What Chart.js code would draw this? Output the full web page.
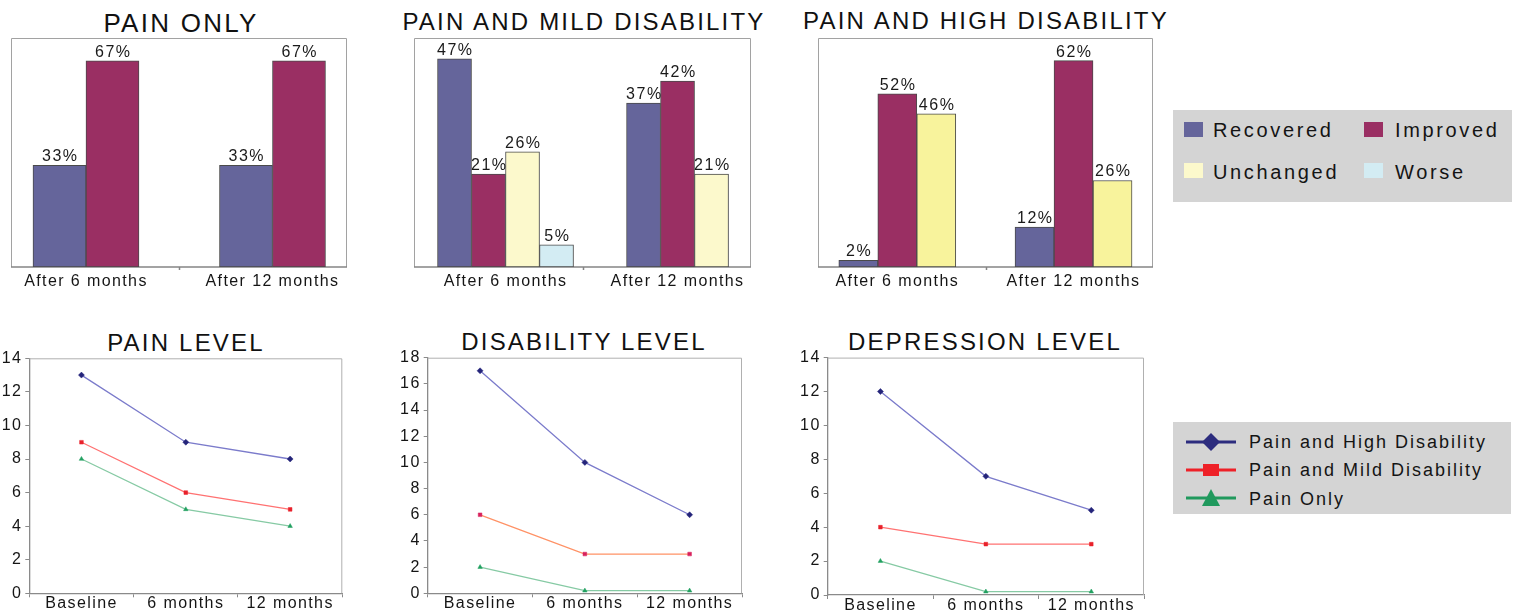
<!DOCTYPE html>
<html>
<head>
<meta charset="utf-8">
<title>Outcomes by patient group</title>
<script src="https://cdn.jsdelivr.net/npm/chart.js@4.4.1/dist/chart.umd.min.js"></script>
<style>
  html, body { margin: 0; padding: 0; background: #fff; }
  body {
    width: 1516px; height: 615px; position: relative; overflow: hidden;
    font-family: "Liberation Sans", Arial, sans-serif; color: #151515;
  }
  canvas { position: absolute; }
  .title {
    position: absolute; white-space: nowrap; transform: translateX(-50%);
    font-size: 24px; line-height: 24px; letter-spacing: 2.2px; color: #111;
  }
  .title.big { font-size: 26px; line-height: 26px; letter-spacing: 2.25px; }
  .legend { position: absolute; background: #d4d4d4; }
  .legend .swatch { position: absolute; width: 19px; height: 15px; }
  .legend .text20 { position: absolute; font-size: 20px; line-height: 20px; letter-spacing: 2.65px; color: #141414; }
  .legend .text18 { position: absolute; font-size: 18px; line-height: 18px; letter-spacing: 2px; color: #141414; }
  .legend svg { position: absolute; }
</style>
</head>
<body>

<div class="title big" style="left:181px; top:9.5px;">PAIN ONLY</div>
<div class="title" style="left:584px; top:9.7px;">PAIN AND MILD DISABILITY</div>
<div class="title" style="left:986px; top:9.2px;">PAIN AND HIGH DISABILITY</div>
<div class="title" style="left:186px; top:331.2px;">PAIN LEVEL</div>
<div class="title" style="left:584px; top:329.7px;">DISABILITY LEVEL</div>
<div class="title" style="left:985px; top:330.2px;">DEPRESSION LEVEL</div>

<canvas id="painOnlyChart" width="360" height="270" style="left:0px; top:30px;"></canvas>
<canvas id="mildChart" width="380" height="270" style="left:390px; top:30px;"></canvas>
<canvas id="highChart" width="380" height="270" style="left:790px; top:30px;"></canvas>

<canvas id="painLevelChart" width="360" height="270" style="left:0px; top:345px;"></canvas>
<canvas id="disabilityLevelChart" width="360" height="270" style="left:398px; top:345px;"></canvas>
<canvas id="depressionLevelChart" width="360" height="270" style="left:798px; top:345px;"></canvas>

<div class="legend" id="outcomeLegend" style="left:1173px; top:110px; width:339px; height:92px;"></div>
<div class="legend" id="groupLegend" style="left:1173px; top:422px; width:338px; height:92px;"></div>

<script>
// ---- Outcome percentages (top row) ----
const outcomeLabels = ['After 6 months', 'After 12 months'];
const outcomeSeries = ['Recovered', 'Improved', 'Unchanged', 'Worse'];

const painOnlyRecovered = [33, 33];
const painOnlyImproved  = [67, 67];
const painOnlyUnchanged = [null, null];
const painOnlyWorse     = [null, null];

const mildRecovered = [47, 37];
const mildImproved  = [21, 42];
const mildUnchanged = [26, 21];
const mildWorse     = [5, null];

const highRecovered = [2, 12];
const highImproved  = [52, 62];
const highUnchanged = [46, 26];
const highWorse     = [null, null];

// ---- Mean scores over time (bottom row) ----
const timepoints  = ['Baseline', '6 months', '12 months'];
const groupSeries = ['Pain and High Disability', 'Pain and Mild Disability', 'Pain Only'];

const painHigh = [13, 9, 8];
const painMild = [9, 6, 5];
const painOnly = [8, 5, 4];

const disabilityHigh = [17, 10, 6];
const disabilityMild = [6, 3, 3];
const disabilityOnly = [2, 0.2, 0.2];

const depressionHigh = [12, 7, 5];
const depressionMild = [4, 3, 3];
const depressionOnly = [2, 0.2, 0.2];

// ---- Styling ----
const FONT = '"Liberation Sans", Arial, sans-serif';
const outcomeColors = ['#65659b', '#9a2f63', '#fcf9cc', '#d3ecf3'];
const groupLineColors  = ['#7b7bcb', '#ff7272', '#86caa4'];
const groupPointColors = ['#24247a', '#e8212b', '#21a060'];
const groupPointStyles = ['rectRot', 'rect', 'triangle'];
const groupLegendColors = ['#2c2c7e', '#ee2128', '#20995d'];

// Letter spacing for all text the chart draws itself
const spacing = {
  id: 'spacing',
  beforeUpdate(chart, args, opts) { chart.ctx.letterSpacing = opts.value || '0px'; },
  beforeDraw(chart, args, opts) { chart.ctx.letterSpacing = opts.value || '0px'; }
};

// Light frame around the plot area; optional bottom axis with a centre tick
const boxFrame = {
  id: 'boxFrame',
  beforeDatasetsDraw(chart, args, opts) {
    const { ctx, chartArea: { left, top, right, bottom } } = chart;
    ctx.save();
    ctx.lineWidth = 1;
    ctx.strokeStyle = opts.color;
    ctx.beginPath();
    if (opts.sides) {
      ctx.moveTo(left + 0.5, bottom);
      ctx.lineTo(left + 0.5, top + 0.5);
    } else {
      ctx.moveTo(left, top + 0.5);
    }
    ctx.lineTo(right - 0.5, top + 0.5);
    ctx.lineTo(right - 0.5, bottom);
    ctx.stroke();
    if (opts.axisColor) {
      ctx.strokeStyle = opts.axisColor;
      ctx.lineWidth = 1.5;
      ctx.beginPath();
      ctx.moveTo(left, bottom);
      ctx.lineTo(right, bottom);
      const mid = Math.round((left + right) / 2) + 0.5;
      ctx.moveTo(mid, bottom);
      ctx.lineTo(mid, bottom + 3);
      ctx.stroke();
    }
    ctx.restore();
  }
};

// Percentage labels above each bar
const barValues = {
  id: 'barValues',
  afterDatasetsDraw(chart) {
    const ctx = chart.ctx;
    ctx.save();
    ctx.font = '16px ' + FONT;
    ctx.letterSpacing = '1.5px';
    ctx.fillStyle = '#1a1a1a';
    ctx.textAlign = 'center';
    ctx.textBaseline = 'alphabetic';
    chart.data.datasets.forEach((ds, i) => {
      const meta = chart.getDatasetMeta(i);
      meta.data.forEach((bar, j) => {
        const v = ds.data[j].y;
        if (v === null || v === undefined || !isFinite(bar.y)) return;
        ctx.fillText(v + '%', bar.x + 0.8, bar.y - 4);
      });
    });
    ctx.restore();
  }
};

function outcomeChart(id, series, opts) {
  return new Chart(document.getElementById(id), {
    type: 'bar',
    data: {
      datasets: outcomeSeries.map((name, k) => ({
        label: name,
        data: series[k].map((v, i) => ({ x: i, y: v })),
        backgroundColor: (k === 2 && opts.unchangedColor) ? opts.unchangedColor : outcomeColors[k],
        borderColor: '#4a4a4a',
        borderWidth: 1,
        borderSkipped: false,
        barThickness: opts.barWidth,
        skipNull: true
      }))
    },
    options: {
      responsive: false,
      animation: false,
      devicePixelRatio: 1,
      layout: { padding: opts.padding },
      plugins: {
        legend: { display: false },
        tooltip: { enabled: false },
        spacing: { value: '1.4px' },
        boxFrame: { color: '#a2a2a2', sides: true, axisColor: '#858585' }
      },
      scales: {
        x: {
          type: 'linear',
          offset: false,
          min: opts.xMin,
          max: opts.xMax,
          grid: { display: false, drawTicks: false },
          border: { display: false },
          afterBuildTicks: axis => { axis.ticks = outcomeLabels.map((_, i) => ({ value: i })); },
          afterFit: scale => { scale.height = 33; },
          ticks: {
            callback: v => outcomeLabels[v],
            font: { family: FONT, size: 16 },
            color: '#151515',
            padding: 5,
            maxRotation: 0,
            autoSkip: false
          }
        },
        y: { display: false, min: 0, max: opts.yMax }
      }
    },
    plugins: [spacing, boxFrame, barValues]
  });
}

outcomeChart('painOnlyChart',
  [painOnlyRecovered, painOnlyImproved, painOnlyUnchanged, painOnlyWorse],
  { barWidth: 53, xMin: -0.402, xMax: 1.3995, yMax: 74.4,
    padding: { left: 11, right: 13, top: 8, bottom: 0 } });

outcomeChart('mildChart',
  [mildRecovered, mildImproved, mildUnchanged, mildWorse],
  { barWidth: 34, xMin: -0.532, xMax: 1.427, yMax: 51.7,
    padding: { left: 24, right: 19, top: 8, bottom: 0 } });

outcomeChart('highChart',
  [highRecovered, highImproved, highUnchanged, highWorse],
  { barWidth: 39, xMin: -0.45, xMax: 1.451, yMax: 68.8, unchangedColor: '#f8f39c',
    padding: { left: 28, right: 17, top: 8, bottom: 0 } });

function levelChart(id, series, opts) {
  return new Chart(document.getElementById(id), {
    type: 'line',
    data: {
      labels: timepoints,
      datasets: groupSeries.map((name, k) => ({
        label: name,
        data: series[k],
        borderColor: (k === 1 && opts.mildLine) ? opts.mildLine : groupLineColors[k],
        borderWidth: 1.3,
        tension: 0,
        fill: false,
        pointStyle: groupPointStyles[k],
        pointRadius: k === 0 ? 3 : 2.6,
        pointBackgroundColor: (k === 1 && opts.mildPoint) ? opts.mildPoint : groupPointColors[k],
        pointBorderColor: (k === 1 && opts.mildPoint) ? opts.mildPoint : groupPointColors[k],
        pointBorderWidth: 0.5
      }))
    },
    options: {
      responsive: false,
      animation: false,
      devicePixelRatio: 1,
      layout: { padding: opts.padding },
      plugins: {
        legend: { display: false },
        tooltip: { enabled: false },
        spacing: { value: '1.4px' },
        boxFrame: { color: '#b0b0b0', sides: false }
      },
      scales: {
        x: {
          type: 'category',
          offset: true,
          grid: { display: true, drawOnChartArea: false, drawTicks: true, tickLength: 4,
                  offset: true, color: '#8a8a8a' },
          border: { display: true, color: '#8a8a8a', width: 1.3 },
          afterFit: scale => { scale.height = opts.xHeight; },
          ticks: {
            font: { family: FONT, size: 16 },
            color: '#151515',
            padding: -3,
            maxRotation: 0,
            autoSkip: false
          }
        },
        y: {
          min: 0,
          max: opts.yMax,
          grid: { display: true, drawOnChartArea: false, drawTicks: true, tickLength: 4,
                  color: '#8a8a8a' },
          border: { display: true, color: '#8a8a8a', width: 1.3 },
          afterFit: scale => { scale.width = opts.yWidth; },
          ticks: {
            stepSize: 2,
            font: { family: FONT, size: 16 },
            color: '#151515',
            padding: 3
          }
        }
      }
    },
    plugins: [spacing, boxFrame]
  });
}

levelChart('painLevelChart', [painHigh, painMild, painOnly],
  { yMax: 14, yWidth: 29.3, xHeight: 21.7,
    padding: { left: 0, right: 17.7, top: 13.3, bottom: 0 } });

levelChart('disabilityLevelChart', [disabilityHigh, disabilityMild, disabilityOnly],
  { yMax: 18, yWidth: 29.7, xHeight: 21.7, mildLine: '#ff9266', mildPoint: '#d8215c',
    padding: { left: 0, right: 16, top: 12.7, bottom: 0 } });

levelChart('depressionLevelChart', [depressionHigh, depressionMild, depressionOnly],
  { yMax: 14, yWidth: 29.7, xHeight: 20,
    padding: { left: 0, right: 14, top: 12.3, bottom: 0 } });

// ---- Legends ----
(function buildOutcomeLegend() {
  const box = document.getElementById('outcomeLegend');
  const cols = [11, 191];
  const textCols = [40, 222];
  const rows = [12, 53];
  const textRows = [9.8, 52.1];
  outcomeSeries.forEach((name, k) => {
    const c = k % 2, r = Math.floor(k / 2);
    const sw = document.createElement('div');
    sw.className = 'swatch';
    sw.style.left = cols[c] + 'px';
    sw.style.top = rows[r] + 'px';
    sw.style.background = outcomeColors[k];
    box.appendChild(sw);
    const t = document.createElement('div');
    t.className = 'text20';
    t.style.left = textCols[c] + 'px';
    t.style.top = textRows[r] + 'px';
    t.textContent = name;
    box.appendChild(t);
  });
})();

(function buildGroupLegend() {
  const box = document.getElementById('groupLegend');
  const centers = [19.7, 48, 76.3];
  const shapes = [
    c => '<polygon points="25,1 34,10 25,19 16,10" fill="' + c + '"/>',
    c => '<rect x="17" y="4" width="16" height="12" fill="' + c + '"/>',
    c => '<polygon points="25,1 34,18 16,18" fill="' + c + '"/>'
  ];
  groupSeries.forEach((name, k) => {
    const color = groupLegendColors[k];
    const wrap = document.createElement('div');
    wrap.innerHTML =
      '<svg width="52" height="20" style="left:13px; top:' + (centers[k] - 10) + 'px">' +
      '<line x1="0" y1="10" x2="50" y2="10" stroke="' + color + '" stroke-width="3"/>' +
      shapes[k](color) + '</svg>';
    box.appendChild(wrap.firstChild);
    const t = document.createElement('div');
    t.className = 'text18';
    t.style.left = '76px';
    t.style.top = (centers[k] - 8.8) + 'px';
    t.textContent = name;
    box.appendChild(t);
  });
})();
</script>
</body>
</html>
